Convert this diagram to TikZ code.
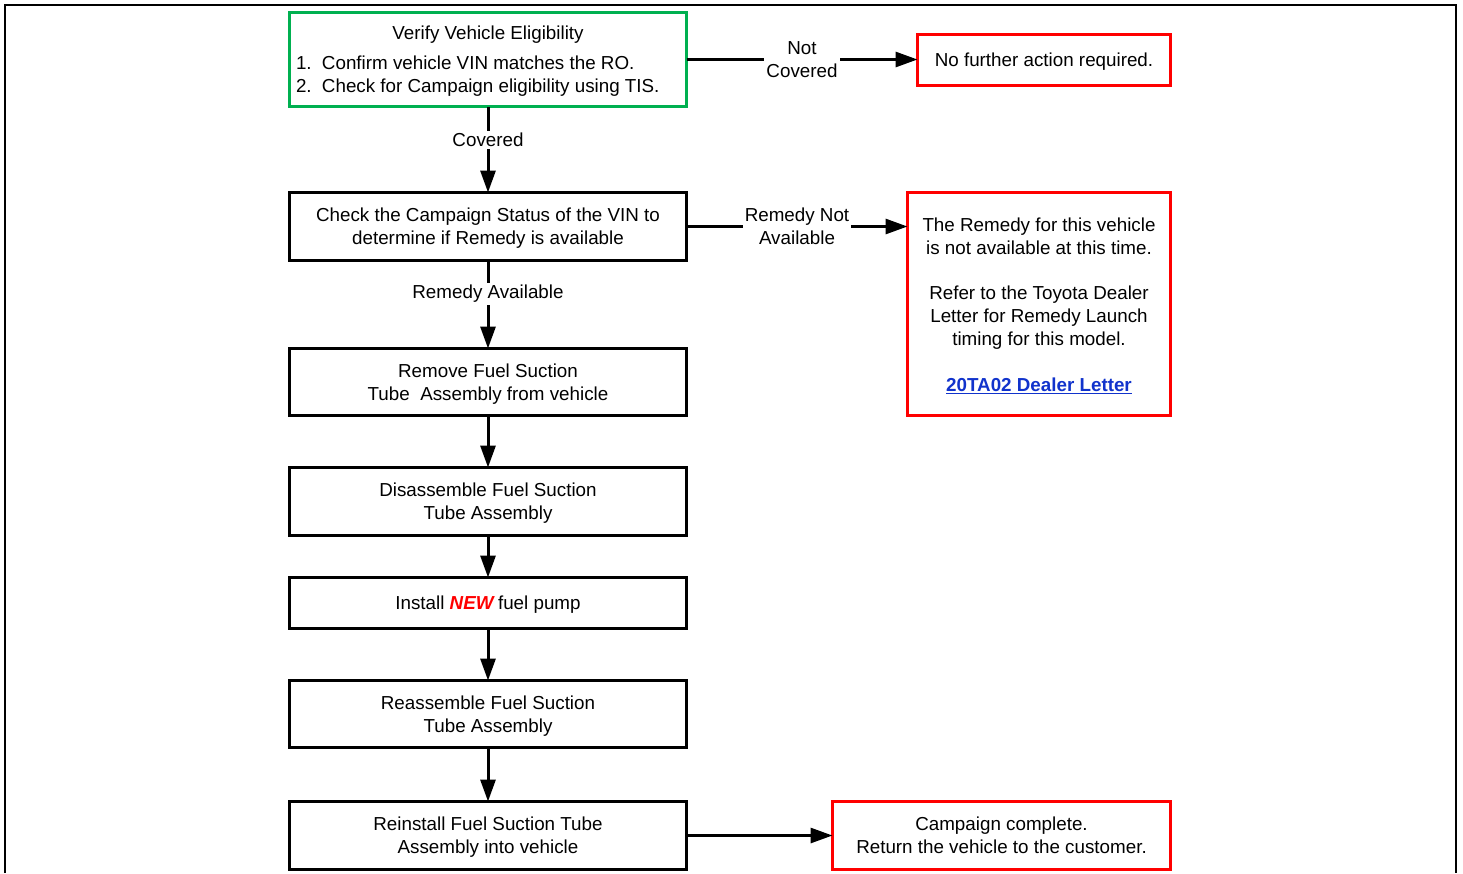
\documentclass[tikz,border=0pt]{standalone}
\usepackage{fontspec}
\setmainfont{Liberation Sans}
\usetikzlibrary{arrows.meta}
\definecolor{okgreen}{RGB}{0,176,80}
\definecolor{linkblue}{RGB}{17,51,204}
\newcommand\boxstrut{\rule[-4.5pt]{0pt}{22pt}}

\begin{document}
\begin{tikzpicture}[x=1pt,y=-1pt,
    font=\fontsize{18.8}{23}\selectfont,
    box/.style={draw,line width=3pt,inner sep=0pt,outer sep=0pt,align=flush center,minimum width=397pt,
      text width=384pt,execute at begin node=\boxstrut},
    redbox/.style={box,draw=red},
    arrow/.style={line width=3pt,-{Triangle[length=22pt,width=15pt]}},
    lbl/.style={fill=white,align=center,inner sep=2pt}]
    \useasboundingbox (0,0) rectangle (1463,873);
    \draw [line width=2pt] (5,873) -- (5,5) -- (1456,5) -- (1456,873);
    % main column
    \node [box,draw=okgreen,minimum height=94pt,align=flush left] (elig) at (488,59.5)
      {\makebox[384pt]{Verify Vehicle Eligibility}\\[7pt]\makebox[26pt][l]{1.}Confirm vehicle VIN matches the RO.\\\makebox[26pt][l]{2.}Check for Campaign eligibility using TIS.};
    \node [box,minimum height=68pt] (status) at (488,226.5) {Check the Campaign Status of the VIN to\\determine if Remedy is available};
    \foreach \name/\y/\h/\txt in {
        remove/382/67/{Remove Fuel Suction\\Tube~~Assembly from vehicle},
        disasm/501.5/68/{Disassemble Fuel Suction\\Tube Assembly},
        install/603/51/{Install \textcolor{red}{\textbf{\textit{NEW}}}\,fuel pump},
        reasm/714/67/{Reassemble Fuel Suction\\Tube Assembly},
        reinst/835.5/68/{Reinstall Fuel Suction Tube\\Assembly into vehicle}}
      \node [box,minimum height=\h pt] (\name) at (488,\y) {\txt};
    % red boxes
    \node [redbox,minimum width=253pt,text width=240pt,minimum height=51pt] (nocov) at (1044,59.5) {No further action required.};
    \node [redbox,minimum width=263pt,text width=250pt,minimum height=223pt] (notavail) at (1039,304)
      {The Remedy for this vehicle\\is not available at this time.\\[22pt]Refer to the Toyota Dealer\\Letter for Remedy Launch\\timing for this model.\\[23pt]\textcolor{linkblue}{\textbf{\underline{20TA02 Dealer Letter}}}};
    \node [redbox,minimum width=338pt,text width=330pt,minimum height=68pt] (done) at (1001.5,835.5) {Campaign complete.\\Return the vehicle to the customer.\boxstrut};
    % connectors
    \draw [arrow] (elig) -- node [lbl,pos=0.39] {Covered} (status);
    \draw [arrow] (status) -- node [lbl,pos=0.38] {Remedy Available} (remove);
    \draw [arrow] (elig) -- node [lbl] {Not\\Covered} (nocov);
    \draw [arrow] (status.east) -- node [lbl] {Remedy Not\\Available} (status.east -| notavail.west);
    \foreach \a/\b in {remove/disasm,disasm/install,install/reasm,reasm/reinst,reinst/done}
      \draw [arrow] (\a) -- (\b);
\end{tikzpicture}
\end{document}
